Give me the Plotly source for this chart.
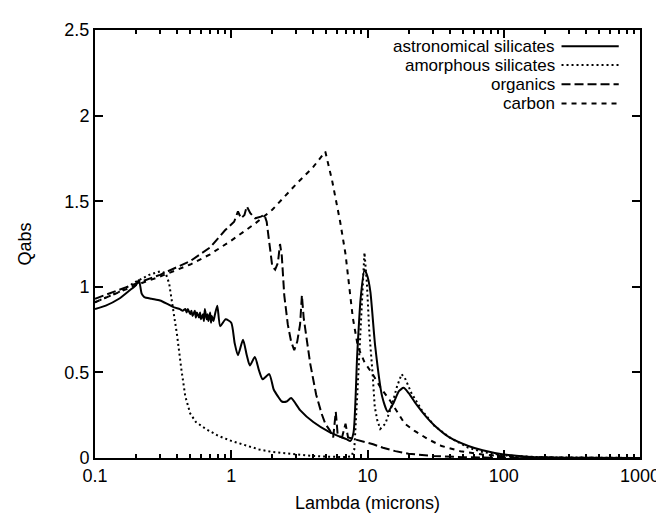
import plotly.graph_objects as go

# wavelength (microns) vs Qabs
astro_lam = [0.1, 0.12, 0.15, 0.18, 0.2, 0.21, 0.22, 0.23, 0.26, 0.3, 0.34, 0.38,
             0.42, 0.44, 0.46, 0.47, 0.48, 0.5, 0.51, 0.52, 0.54, 0.55, 0.56, 0.58,
             0.59, 0.6, 0.62, 0.63, 0.64, 0.66, 0.67, 0.68, 0.7, 0.71, 0.72, 0.74,
             0.76, 0.79, 0.83, 0.91, 1.0, 1.06, 1.12, 1.22, 1.3, 1.37, 1.49, 1.6, 1.7,
             1.9, 2.05, 2.2, 2.35, 2.55, 2.75, 3.2, 4.0, 5.3, 7.0, 7.5, 7.9, 8.4, 8.9, 9.5,
             10.0, 10.5, 11.4, 12.8, 14.1, 15.5, 17.0, 18.4, 20.0, 23.0, 27.0,
             31.0, 40.0, 55.0, 70.0, 100.0, 150.0, 200.0, 400.0, 1000.0]
astro_q = [0.87, 0.89, 0.93, 0.98, 1.01, 1.04, 0.96, 0.94, 0.93, 0.92, 0.90, 0.88,
           0.87, 0.86, 0.87, 0.85, 0.87, 0.84, 0.86, 0.83, 0.86, 0.82, 0.85, 0.82,
           0.85, 0.81, 0.84, 0.80, 0.87, 0.81, 0.84, 0.80, 0.85, 0.79, 0.83, 0.80,
           0.84, 0.89, 0.77, 0.81, 0.79, 0.67, 0.60, 0.69, 0.60, 0.54, 0.59, 0.51, 0.46,
           0.49, 0.40, 0.36, 0.33, 0.33, 0.35, 0.28, 0.21, 0.15, 0.11, 0.10, 0.15, 0.60, 0.93, 1.10,
           1.06, 0.97, 0.65, 0.36, 0.27, 0.32, 0.39, 0.41, 0.38, 0.31, 0.24,
           0.19, 0.12, 0.07, 0.045, 0.02, 0.008, 0.004, 0.001, 0.0]

amorph_lam = [0.1, 0.15, 0.2, 0.25, 0.3, 0.33, 0.35, 0.37, 0.4, 0.43, 0.46, 0.5,
              0.55, 0.65, 0.8, 1.0, 1.3, 1.6, 2.0, 3.0, 4.0, 5.0, 6.0, 7.0, 7.6,
              8.0, 8.4, 8.9, 9.2, 9.5, 9.9, 10.3, 10.9, 11.3, 11.8, 12.4, 13.5,
              15.0, 16.5, 17.8, 19.0, 21.0, 25.0, 30.8, 40.0, 55.0, 70.0, 100.0,
              200.0, 500.0, 1000.0]
amorph_q = [0.91, 0.97, 1.03, 1.07, 1.09, 1.08, 1.02, 0.90, 0.72, 0.52, 0.36, 0.26,
            0.21, 0.17, 0.13, 0.10, 0.07, 0.05, 0.035, 0.02, 0.012, 0.008, 0.006, 0.005, 0.01,
            0.05, 0.36, 0.75, 0.95, 1.20, 1.02, 0.74, 0.49, 0.30, 0.22, 0.17, 0.20,
            0.30, 0.42, 0.49, 0.46, 0.38, 0.28, 0.19, 0.12, 0.06, 0.035, 0.015,
            0.004, 0.001, 0.0]

org_lam = [0.1, 0.15, 0.2, 0.3, 0.5, 0.7, 0.9, 1.05, 1.12, 1.18, 1.25, 1.3, 1.38,
           1.5, 1.65, 1.75, 1.82, 1.9, 2.0, 2.1, 2.2, 2.28, 2.35, 2.45, 2.6, 2.75,
           2.9, 3.05, 3.2, 3.3, 3.4, 3.6, 3.8, 4.2, 4.6, 4.9, 5.3, 5.6, 5.85, 6.05,
           6.5, 6.9, 7.2, 8.0, 9.0, 10.0, 11.0, 13.0, 16.0, 20.0, 30.0, 50.0,
           100.0, 1000.0]
org_q = [0.93, 0.98, 1.02, 1.07, 1.15, 1.23, 1.33, 1.38, 1.44, 1.40, 1.42, 1.47, 1.43,
         1.40, 1.41, 1.42, 1.38, 1.25, 1.12, 1.10, 1.14, 1.25, 1.18, 0.95, 0.78, 0.68,
         0.63, 0.68, 0.78, 0.95, 0.82, 0.68, 0.55, 0.37, 0.26, 0.20, 0.16, 0.12, 0.27, 0.13,
         0.12, 0.20, 0.12, 0.11, 0.10, 0.09, 0.08, 0.06, 0.04, 0.025, 0.012, 0.005,
         0.001, 0.0]

carb_lam = [0.1, 0.15, 0.2, 0.3, 0.5, 0.7, 1.0, 1.5, 2.0, 3.0, 4.0, 4.9, 5.5, 6.3,
            6.9, 7.8, 8.5, 9.5, 10.9, 12.5, 14.5, 18.8, 22.0, 27.8, 35.0, 48.0,
            70.0, 100.0, 200.0, 500.0, 1000.0]
carb_q = [0.91, 0.97, 1.01, 1.06, 1.13, 1.19, 1.27, 1.37, 1.45, 1.60, 1.70, 1.79, 1.62, 1.38,
          1.19, 0.82, 0.65, 0.56, 0.49, 0.41, 0.34, 0.20, 0.16, 0.11, 0.07, 0.04,
          0.02, 0.01, 0.003, 0.0005, 0.0]

names = ["astronomical silicates", "amorphous silicates", "organics", "carbon"]
dashes = ["solid", "2px,3px", "9px,4px", "5px,5px"]
shapes = ["spline", "linear", "linear", "linear"]

x_tickvals = [0.1, 1, 10, 100, 1000]
x_ticktext = ["0.1", "1", "10", "100", "1000"]
y_tickvals = [0, 0.5, 1, 1.5, 2, 2.5]

font = "Liberation Sans, Arial, Helvetica, sans-serif"

fig = go.Figure()
series = [(astro_lam, astro_q), (amorph_lam, amorph_q), (org_lam, org_q), (carb_lam, carb_q)]
for (lam, q), name, dash, shp in zip(series, names, dashes, shapes):
    fig.add_trace(go.Scatter(x=lam, y=q, mode="lines", name=name,
                             line=dict(color="black", width=2, dash=dash,
                                       shape=shp, smoothing=0.6)))

# gnuplot style key: text on the left, sample on the right
key_y = [0.962, 0.918, 0.873, 0.828]
for name, dash, ky in zip(names, dashes, key_y):
    fig.add_annotation(x=0.845, y=ky, xref="paper", yref="paper", text=name,
                       showarrow=False, xanchor="right", yanchor="middle", borderpad=0,
                       font=dict(size=17, color="black", family=font))
    fig.add_shape(type="line", xref="paper", yref="paper", x0=0.856, x1=0.961, y0=ky, y1=ky,
                  line=dict(color="black", width=2, dash=dash))

minor_vals = [m * 10.0 ** e for e in range(-1, 3) for m in range(2, 10)]

fig.update_xaxes(type="log", range=[-1, 3], tickvals=x_tickvals, ticktext=x_ticktext,
                 ticks="inside", ticklen=8, tickwidth=1.5, tickcolor="black",
                 minor=dict(tickvals=minor_vals, ticks="inside", ticklen=4, tickwidth=1.5,
                            tickcolor="black", showgrid=False),
                 showline=True, linecolor="black", linewidth=2, mirror="allticks",
                 showgrid=False, zeroline=False,
                 title=dict(text="Lambda (microns)", standoff=12,
                            font=dict(size=18, color="black", family=font)))
fig.update_yaxes(range=[0, 2.5], tickvals=y_tickvals,
                 ticks="inside", ticklen=8, tickwidth=1.5, tickcolor="black",
                 showline=True, linecolor="black", linewidth=2, mirror="allticks",
                 showgrid=False, zeroline=False,
                 title=dict(text="Qabs", standoff=28,
                            font=dict(size=18, color="black", family=font)))

fig.update_layout(width=664, height=514, showlegend=False,
                  plot_bgcolor="white", paper_bgcolor="white",
                  margin=dict(l=87, r=21, t=15, b=61),
                  font=dict(family=font, size=18, color="black"))

fig.write_html("out.html")
